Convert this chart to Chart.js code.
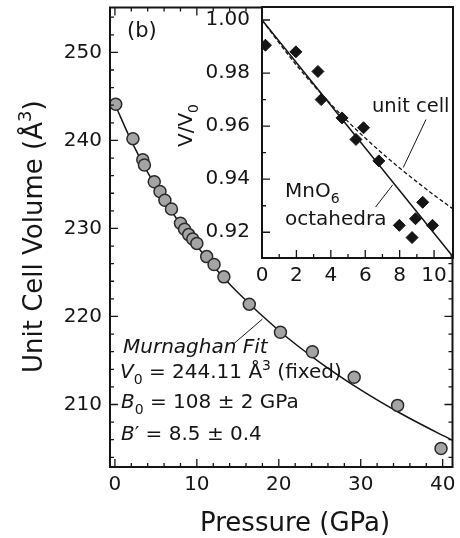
<!DOCTYPE html>
<html>
<head>
<meta charset="utf-8">
<script src="https://cdn.jsdelivr.net/npm/chart.js@4.4.0/dist/chart.umd.min.js"></script>
<style>
  html, body { margin: 0; padding: 0; background: #fff; }
  #wrap { position: relative; width: 460px; height: 538px; }
  #wrap canvas { position: absolute; left: 0; top: 0; }
</style>
</head>
<body>
<div id="wrap">
  <canvas id="main" width="460" height="538"></canvas>
  <canvas id="inset" width="460" height="538"></canvas>
</div>
<script>
// ── data ───────────────────────────────────────────────────────────────────
// main panel: unit cell volume (Å³) vs pressure (GPa)
const pressure = [0.1, 2.2, 3.4, 3.6, 4.8, 5.5, 6.1, 6.9, 8.0, 8.5, 9.0, 9.5, 10.0, 11.2, 12.1, 13.3, 16.4, 20.2, 24.1, 29.2, 34.5, 39.8];
const volume   = [244.1, 240.2, 237.8, 237.2, 235.3, 234.2, 233.2, 232.2, 230.6, 229.9, 229.3, 228.8, 228.3, 226.8, 225.9, 224.5, 221.4, 218.2, 216.0, 213.1, 209.9, 205.0];
// Murnaghan fit curve
const fitP = [0, 2, 4, 6, 8, 10, 12, 15, 20, 25, 30, 35, 40, 41.2];
const fitV = [244.11, 239.95, 236.37, 233.25, 230.48, 228.0, 225.74, 222.72, 218.41, 214.79, 211.66, 208.92, 206.49, 205.94];
const mainXTicks = [0, 10, 20, 30, 40];
const mainYTicks = [210, 220, 230, 240, 250];

// inset: V/V0 of MnO6 octahedra
const insetP     = [0.2, 1.97, 3.25, 3.44, 4.65, 5.9, 5.46, 6.79, 9.34, 8.92, 7.98, 9.91, 8.72];
const insetRatio = [0.9905, 0.988, 0.9806, 0.970, 0.9631, 0.9594, 0.955, 0.9469, 0.9313, 0.9251, 0.9226, 0.9226, 0.918];
// unit cell curve (dashed) and octahedra line (solid)
const cellP     = [0, 2, 4, 6, 8, 10, 11.1];
const cellRatio = [1.0, 0.983, 0.9683, 0.9555, 0.9442, 0.934, 0.9288];
const octP      = [0, 5.5, 11.1];
const octRatio  = [1.0, 0.9558, 0.9108];
const insetXTicks = [0, 2, 4, 6, 8, 10];
const insetYTicks = [0.92, 0.94, 0.96, 0.98, 1.00];

// annotation leader lines, in data units
const fitLeader  = [[14.5, 216.9], [18.0, 219.7]];
const cellLeader = [[9.53, 0.9625], [8.21, 0.9444]];
const octLeader  = [[6.6, 0.9295], [7.6, 0.9379]];

const INK = "#151515";
const FONT = "DejaVu Sans";
Chart.defaults.font.family = FONT;
Chart.defaults.color = INK;

const pts = (xs, ys) => xs.map((x, i) => ({ x, y: ys[i] }));

// ── helpers ───────────────────────────────────────────────────────────────
function textRun(ctx, x, y, parts, size) {
  let cx = x;
  for (const [t, st] of parts) {
    const small = st === "sub" || st === "sup";
    const s = small ? Math.round(size * 0.68) : size;
    ctx.font = (st === "i" ? "italic " : "") + s + 'px "' + FONT + '"';
    const dy = st === "sub" ? size * 0.28 : st === "sup" ? -size * 0.42 : 0;
    ctx.fillText(t, cx, y + dy);
    cx += ctx.measureText(t).width;
  }
}

function tickMarks(ctx, a, scale, step, major, horizontal, both) {
  const n0 = Math.ceil(scale.min / step - 1e-6), n1 = Math.floor(scale.max / step + 1e-6);
  ctx.beginPath();
  for (let i = n0; i <= n1; i++) {
    const v = i * step;
    const p = scale.getPixelForValue(v);
    const isMajor = Math.abs(v / major - Math.round(v / major)) < 1e-6;
    const len = isMajor ? 8 : 4;
    if (horizontal) {
      ctx.moveTo(p, a.bottom); ctx.lineTo(p, a.bottom - len);
      if (both) { ctx.moveTo(p, a.top); ctx.lineTo(p, a.top + len); }
    } else {
      ctx.moveTo(a.left, p); ctx.lineTo(a.left + len, p);
      if (both) { ctx.moveTo(a.right, p); ctx.lineTo(a.right - len, p); }
    }
  }
  ctx.stroke();
}

function leader(ctx, x, y, seg) {
  ctx.beginPath();
  ctx.moveTo(x.getPixelForValue(seg[0][0]), y.getPixelForValue(seg[0][1]));
  ctx.lineTo(x.getPixelForValue(seg[1][0]), y.getPixelForValue(seg[1][1]));
  ctx.stroke();
}

function axisOpts(min, max, tickList, padding, fit, fmt) {
  return {
    type: "linear", min, max,
    grid: { display: false, drawTicks: false },
    border: { display: false },
    ticks: { padding, autoSkip: false, maxRotation: 0, color: INK, font: { size: 20 }, callback: fmt || (v => v) },
    afterBuildTicks: s => { s.ticks = tickList.map(v => ({ value: v })); },
    afterFit: fit,
  };
}

// ── main panel ────────────────────────────────────────────────────────────
const mainDecor = {
  id: "mainDecor",
  afterDatasetsDraw(chart) {
    const { ctx, chartArea: a, scales: { x, y } } = chart;
    ctx.save();
    ctx.strokeStyle = INK;
    ctx.lineWidth = 1.3;
    tickMarks(ctx, a, x, 2, 10, true, true);
    tickMarks(ctx, a, y, 2, 10, false, true);
    ctx.lineWidth = 2;
    ctx.strokeRect(a.left, a.top, a.right - a.left, a.bottom - a.top);
    ctx.lineWidth = 1;
    leader(ctx, x, y, fitLeader);

    ctx.fillStyle = INK;
    ctx.textAlign = "left";
    ctx.textBaseline = "alphabetic";
    textRun(ctx, 127, 37, [["(b)", ""]], 21);
    textRun(ctx, 123, 353, [["Murnaghan Fit", "i"]], 20);
    textRun(ctx, 120, 378, [["V", "i"], ["0", "sub"], [" = 244.11 Å", ""], ["3", "sup"], [" (fixed)", ""]], 20);
    textRun(ctx, 121, 408, [["B", "i"], ["0", "sub"], [" = 108 ± 2 GPa", ""]], 20);
    textRun(ctx, 121, 440, [["B", "i"], ["′", ""], [" = 8.5 ± 0.4", ""]], 20);

    // axis titles
    textRun(ctx, 200, 531, [["Pressure (GPa)", ""]], 26);
    ctx.translate(42, 373);
    ctx.rotate(-Math.PI / 2);
    textRun(ctx, 0, 0, [["Unit Cell Volume (Å", ""], ["3", "sup"], [")", ""]], 26);
    ctx.restore();
  },
};

new Chart(document.getElementById("main"), {
  type: "scatter",
  data: {
    datasets: [
      {
        data: pts(pressure, volume),
        pointStyle: "circle", pointRadius: 6, borderWidth: 1.5,
        backgroundColor: "#a4a4a4", borderColor: "#2a2a2a",
      },
      {
        type: "line", data: pts(fitP, fitV),
        borderColor: INK, borderWidth: 1.5, pointRadius: 0, fill: false,
        cubicInterpolationMode: "monotone",
      },
    ],
  },
  options: {
    responsive: false, animation: false, events: [],
    layout: { padding: { left: 0, right: 2, top: 5, bottom: 0 } },
    plugins: { legend: { display: false }, tooltip: { enabled: false } },
    scales: {
      x: axisOpts(-0.6, 41.2, mainXTicks, 6, s => { s.height = 71; s.paddingLeft = 0; s.paddingRight = 0; }),
      y: axisOpts(202.9, 255.1, mainYTicks, 8, s => { s.width = 110; s.paddingTop = 0; s.paddingBottom = 0; }),
    },
  },
  plugins: [mainDecor],
});

// ── inset ─────────────────────────────────────────────────────────────────
const insetDecor = {
  id: "insetDecor",
  beforeDatasetsDraw(chart) {
    const { ctx, chartArea: a } = chart;
    ctx.save();
    ctx.fillStyle = "#fff";
    ctx.fillRect(a.left, a.top, a.right - a.left, a.bottom - a.top);
    ctx.restore();
  },
  afterDatasetsDraw(chart) {
    const { ctx, chartArea: a, scales: { x, y } } = chart;
    ctx.save();
    ctx.strokeStyle = INK;
    ctx.lineWidth = 1.3;
    tickMarks(ctx, a, x, 1, 2, true, false);
    tickMarks(ctx, a, y, 0.01, 0.02, false, false);
    ctx.lineWidth = 2;
    ctx.strokeRect(a.left, a.top, a.right - a.left, a.bottom - a.top);
    ctx.lineWidth = 1;
    leader(ctx, x, y, cellLeader);
    leader(ctx, x, y, octLeader);

    ctx.fillStyle = INK;
    ctx.textAlign = "left";
    ctx.textBaseline = "alphabetic";
    textRun(ctx, 372, 112, [["unit cell", ""]], 19.5);
    textRun(ctx, 285, 197, [["MnO", ""], ["6", "sub"]], 20);
    textRun(ctx, 285, 225, [["octahedra", ""]], 20);

    ctx.translate(192, 147);
    ctx.rotate(-Math.PI / 2);
    textRun(ctx, 0, 0, [["V/V", ""], ["0", "sub"]], 20);
    ctx.restore();
  },
};

new Chart(document.getElementById("inset"), {
  type: "scatter",
  data: {
    datasets: [
      {
        data: pts(insetP, insetRatio),
        pointStyle: "rectRot", pointRadius: 6, borderWidth: 1,
        backgroundColor: INK, borderColor: INK,
      },
      {
        type: "line", data: pts(octP, octRatio),
        borderColor: INK, borderWidth: 1.5, pointRadius: 0, fill: false,
      },
      {
        type: "line", data: pts(cellP, cellRatio),
        borderColor: INK, borderWidth: 1.3, borderDash: [4, 2.5], pointRadius: 0, fill: false,
        cubicInterpolationMode: "monotone",
      },
    ],
  },
  options: {
    responsive: false, animation: false, events: [],
    layout: { padding: { left: 200, right: 2, top: 5, bottom: 240 } },
    plugins: { legend: { display: false }, tooltip: { enabled: false } },
    scales: {
      x: axisOpts(0, 11.1, insetXTicks, 6, s => { s.height = 40; s.paddingLeft = 0; s.paddingRight = 0; }),
      y: axisOpts(0.9103, 1.0049, insetYTicks, 12, s => { s.width = 62; s.paddingTop = 0; s.paddingBottom = 0; }, v => v.toFixed(2)),
    },
  },
  plugins: [insetDecor],
});
</script>
</body>
</html>
